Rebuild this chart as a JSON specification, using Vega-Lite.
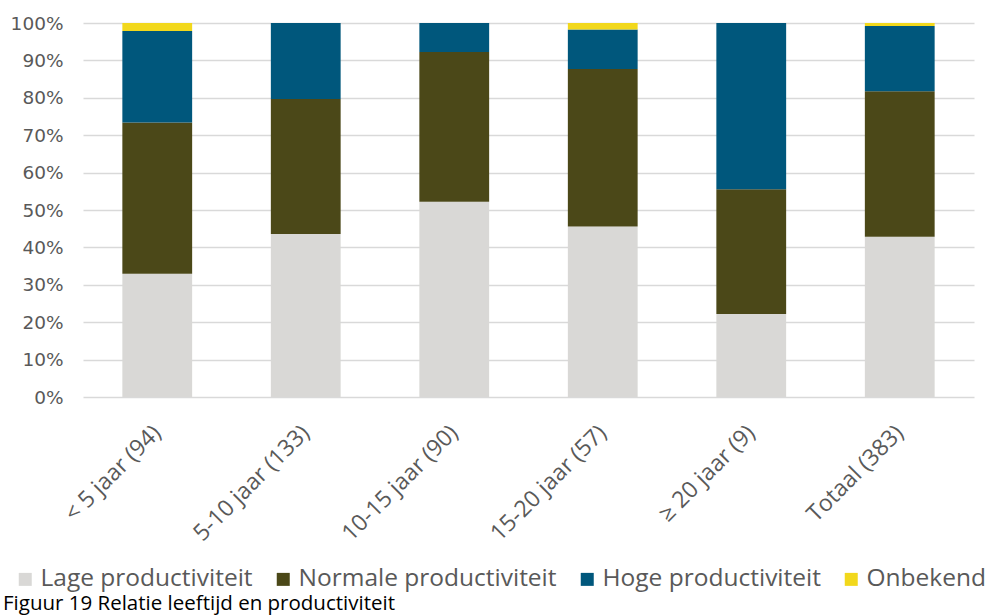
{
  "$schema": "https://vega.github.io/schema/vega-lite/v6.json",
  "width": 891,
  "height": 374,
  "autosize": {"type": "none"},
  "padding": {"left": 83, "top": 23, "right": 15, "bottom": 218},
  "background": "white",
  "config": {"view": {"stroke": null}},
  "title": {
    "text": "Figuur 19 Relatie leeftijd en productiviteit",
    "orient": "bottom",
    "anchor": "start",
    "frame": "group",
    "dx": -80,
    "offset": 3,
    "font": "Open Sans",
    "fontSize": 20.5,
    "fontWeight": "normal",
    "color": "#000000"
  },
  "data": {
    "values": [
      {"groep": "< 5 jaar (94)", "productiviteit": "Lage productiviteit", "volgorde": 1, "aantal": 31},
      {"groep": "< 5 jaar (94)", "productiviteit": "Normale productiviteit", "volgorde": 2, "aantal": 38},
      {"groep": "< 5 jaar (94)", "productiviteit": "Hoge productiviteit", "volgorde": 3, "aantal": 23},
      {"groep": "< 5 jaar (94)", "productiviteit": "Onbekend", "volgorde": 4, "aantal": 2},
      {"groep": "5-10 jaar (133)", "productiviteit": "Lage productiviteit", "volgorde": 1, "aantal": 58},
      {"groep": "5-10 jaar (133)", "productiviteit": "Normale productiviteit", "volgorde": 2, "aantal": 48},
      {"groep": "5-10 jaar (133)", "productiviteit": "Hoge productiviteit", "volgorde": 3, "aantal": 27},
      {"groep": "5-10 jaar (133)", "productiviteit": "Onbekend", "volgorde": 4, "aantal": 0},
      {"groep": "10-15 jaar (90)", "productiviteit": "Lage productiviteit", "volgorde": 1, "aantal": 47},
      {"groep": "10-15 jaar (90)", "productiviteit": "Normale productiviteit", "volgorde": 2, "aantal": 36},
      {"groep": "10-15 jaar (90)", "productiviteit": "Hoge productiviteit", "volgorde": 3, "aantal": 7},
      {"groep": "10-15 jaar (90)", "productiviteit": "Onbekend", "volgorde": 4, "aantal": 0},
      {"groep": "15-20 jaar (57)", "productiviteit": "Lage productiviteit", "volgorde": 1, "aantal": 26},
      {"groep": "15-20 jaar (57)", "productiviteit": "Normale productiviteit", "volgorde": 2, "aantal": 24},
      {"groep": "15-20 jaar (57)", "productiviteit": "Hoge productiviteit", "volgorde": 3, "aantal": 6},
      {"groep": "15-20 jaar (57)", "productiviteit": "Onbekend", "volgorde": 4, "aantal": 1},
      {"groep": "≥ 20 jaar (9)", "productiviteit": "Lage productiviteit", "volgorde": 1, "aantal": 2},
      {"groep": "≥ 20 jaar (9)", "productiviteit": "Normale productiviteit", "volgorde": 2, "aantal": 3},
      {"groep": "≥ 20 jaar (9)", "productiviteit": "Hoge productiviteit", "volgorde": 3, "aantal": 4},
      {"groep": "≥ 20 jaar (9)", "productiviteit": "Onbekend", "volgorde": 4, "aantal": 0},
      {"groep": "Totaal (383)", "productiviteit": "Lage productiviteit", "volgorde": 1, "aantal": 164},
      {"groep": "Totaal (383)", "productiviteit": "Normale productiviteit", "volgorde": 2, "aantal": 149},
      {"groep": "Totaal (383)", "productiviteit": "Hoge productiviteit", "volgorde": 3, "aantal": 67},
      {"groep": "Totaal (383)", "productiviteit": "Onbekend", "volgorde": 4, "aantal": 3}
    ]
  },
  "mark": {"type": "bar"},
  "encoding": {
    "x": {
      "field": "groep",
      "type": "nominal",
      "sort": null,
      "scale": {"paddingInner": 0.53, "paddingOuter": 0.265},
      "axis": {
        "title": null,
        "labelAngle": -45,
        "labelAlign": "right",
        "labelBaseline": "middle",
        "labelFont": "Open Sans",
        "labelFontSize": 23,
        "labelColor": "#595959",
        "labelPadding": 32,
        "domain": false,
        "ticks": false,
        "grid": false
      }
    },
    "y": {
      "field": "aantal",
      "type": "quantitative",
      "stack": "normalize",
      "scale": {"domain": [0, 1], "nice": false},
      "axis": {
        "title": null,
        "format": ".0%",
        "values": [0, 0.1, 0.2, 0.3, 0.4, 0.5, 0.6, 0.7, 0.8, 0.9, 1],
        "domain": false,
        "ticks": false,
        "grid": true,
        "gridColor": "#D9D9D9",
        "gridWidth": 1.5,
        "labelFont": "DejaVu Sans",
        "labelFontSize": 18.5,
        "labelColor": "#595959",
        "labelPadding": 20
      }
    },
    "order": {"field": "volgorde", "type": "quantitative", "sort": "ascending"},
    "color": {
      "field": "productiviteit",
      "type": "nominal",
      "sort": ["Lage productiviteit", "Normale productiviteit", "Hoge productiviteit", "Onbekend"],
      "scale": {
        "domain": ["Lage productiviteit", "Normale productiviteit", "Hoge productiviteit", "Onbekend"],
        "range": ["#D9D8D6", "#4B4818", "#00577C", "#F2D81C"]
      },
      "legend": {
        "title": null,
        "orient": "none",
        "legendX": -70,
        "legendY": 544,
        "direction": "horizontal",
        "columns": 4,
        "padding": 0,
        "symbolType": "square",
        "symbolSize": 169,
        "symbolStrokeWidth": 0,
        "labelFont": "Open Sans",
        "labelFontSize": 24.5,
        "labelColor": "#595959",
        "labelOffset": 3,
        "columnPadding": 18,
        "labelLimit": 400
      }
    }
  }
}
